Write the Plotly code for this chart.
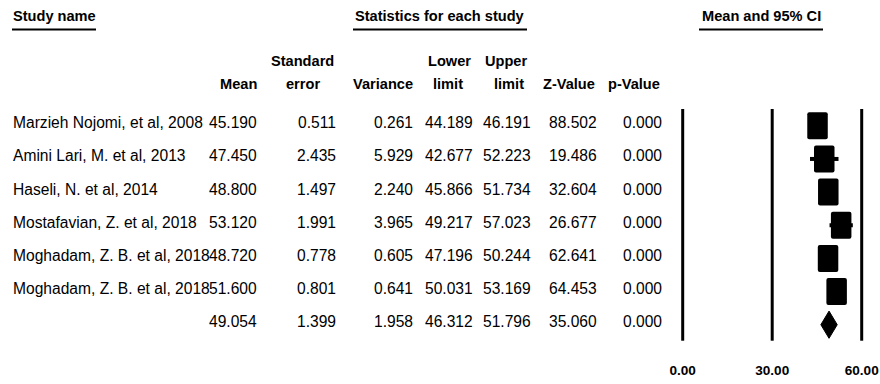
import plotly.graph_objects as go

# ---------------- data ----------------
studies = ["Marzieh Nojomi, et al, 2008", "Amini Lari, M. et al, 2013", "Haseli, N. et al, 2014",
           "Mostafavian, Z. et al, 2018", "Moghadam, Z. B. et al, 2018", "Moghadam, Z. B. et al, 2018"]
means = [45.190, 47.450, 48.800, 53.120, 48.720, 51.600]
std_errors = [0.511, 2.435, 1.497, 1.991, 0.778, 0.801]
variances = [0.261, 5.929, 2.240, 3.965, 0.605, 0.641]
lower_limits = [44.189, 42.677, 45.866, 49.217, 47.196, 50.031]
upper_limits = [46.191, 52.223, 51.734, 57.023, 50.244, 53.169]
z_values = [88.502, 19.486, 32.604, 26.677, 62.641, 64.453]
p_values = [0.000, 0.000, 0.000, 0.000, 0.000, 0.000]

summary_mean = 49.054
summary_se = 1.399
summary_var = 1.958
summary_lower = 46.312
summary_upper = 51.796
summary_z = 35.060
summary_p = 0.000

tick_values = [0, 30, 60]
tick_labels = ["0.00", "30.00", "60.00"]

# ---------------- styling ----------------
W, H = 880, 384
FONT = "Liberation Sans, Arial, sans-serif"
BODY = 15.6
HEAD = 14.6
n = len(studies)
rows = list(range(n))
sum_row = n

# x axis: value 0 at px 682.7, 60 at px 861.7
px0, px60 = 682.7, 861.7
upp = 60 / (px60 - px0)
x_range = [-px0 * upp, (W - px0) * upp]

# y axis (rows): row 0 centre at px 125.8, spacing 33.15 px; plot area 0..plot_h px
plot_h = 354
r0, dr = 125.8, 33.15
y_range = [(plot_h - r0) / dr, -r0 / dr]

sq_w = 20.5 * upp       # square width in data units
sq_h = 27 / dr           # square height in row units
dia_h = 13.6 / dr

fig = go.Figure()

# whiskers
wx, wy = [], []
for lo, up, r in zip(lower_limits, upper_limits, rows):
    wx += [lo, up, None]
    wy += [r, r, None]
fig.add_trace(go.Scatter(x=wx, y=wy, mode="lines", line=dict(color="black", width=4),
                         hoverinfo="skip", showlegend=False))

# squares
fig.add_trace(go.Bar(orientation="h", y=rows, x=[sq_w] * n,
                     base=[m - sq_w / 2 for m in means], width=sq_h,
                     marker=dict(color="black", line=dict(width=0), cornerradius=2),
                     showlegend=False, hoverinfo="skip"))

# summary diamond
fig.add_trace(go.Scatter(
    x=[summary_lower, summary_mean, summary_upper, summary_mean, summary_lower],
    y=[sum_row, sum_row - dia_h, sum_row, sum_row + dia_h, sum_row],
    mode="lines", fill="toself", fillcolor="black", line=dict(color="black", width=1),
    hoverinfo="skip", showlegend=False))

shapes = []
# vertical reference lines
for tv in tick_values:
    shapes.append(dict(type="line", xref="x", yref="y", x0=tv, x1=tv,
                       y0=-0.507, y1=n + 0.483, line=dict(color="black", width=3)))

def px(x):
    return x / W

def py(y):
    return 1 - y / H

annotations = []

def txt(text, x, y, xanchor, size=BODY, bold=False):
    annotations.append(dict(text=text, x=px(x), y=py(y),
                            xref="paper", yref="paper", xanchor=xanchor, yanchor="middle",
                            showarrow=False, borderpad=0, borderwidth=0,
                            font=dict(family=FONT, size=size, color="black",
                                      weight="bold" if bold else "normal")))

# top group headers
txt("Study name", 12.7, 16, "left", HEAD, True)
txt("Statistics for each study", 440, 16, "center", HEAD, True)
txt("Mean and 95% CI", 761, 16, "center", HEAD, True)
for x0, x1 in [(12, 96), (353, 527), (699, 823)]:
    shapes.append(dict(type="line", xref="paper", yref="paper", x0=px(x0), x1=px(x1),
                       y0=py(29.5), y1=py(29.5), line=dict(color="black", width=2)))

# column headers
h1, h2 = 61, 84
txt("Mean", 257, h2, "right", HEAD, True)
txt("Standard", 302, h1, "center", HEAD, True)
txt("error", 303, h2, "center", HEAD, True)
txt("Variance", 412.5, h2, "right", HEAD, True)
txt("Lower", 449, h1, "center", HEAD, True)
txt("limit", 448, h2, "center", HEAD, True)
txt("Upper", 506, h1, "center", HEAD, True)
txt("limit", 509, h2, "center", HEAD, True)
txt("Z-Value", 568.5, h2, "center", HEAD, True)
txt("p-Value", 634, h2, "center", HEAD, True)

cols_right = [257, 335.5, 413, 473, 531, 597, 662]
all_rows = list(zip(studies, means, std_errors, variances, lower_limits, upper_limits, z_values, p_values))
all_rows.append(("", summary_mean, summary_se, summary_var, summary_lower, summary_upper, summary_z, summary_p))
for i, rec in enumerate(all_rows):
    ytxt = r0 + dr * i - 3
    if rec[0]:
        txt(rec[0], 12.7, ytxt, "left")
    for val, xr in zip(rec[1:], cols_right):
        txt(f"{val:.3f}", xr, ytxt, "right")

fig.update_layout(
    width=W, height=H,
    margin=dict(l=0, r=0, t=0, b=0, pad=0, autoexpand=False),
    paper_bgcolor="white", plot_bgcolor="white",
    showlegend=False, barmode="overlay", hovermode=False,
    shapes=shapes, annotations=annotations,
    xaxis=dict(range=x_range, domain=[0, 1], showgrid=False, zeroline=False, showline=False,
               tickvals=tick_values, ticktext=tick_labels, ticks="",
               tickfont=dict(family=FONT, size=13.6, color="black", weight="bold"),
               ticklabelstandoff=6, ticklabeloverflow="allow", automargin=False,
               fixedrange=True),
    yaxis=dict(range=y_range, domain=[1 - plot_h / H, 1], showgrid=False, zeroline=False,
               showline=False, showticklabels=False, ticks="", automargin=False,
               fixedrange=True),
)

fig.write_html("out.html", config={"displayModeBar": False},
               post_script="document.body.style.margin='0';")
